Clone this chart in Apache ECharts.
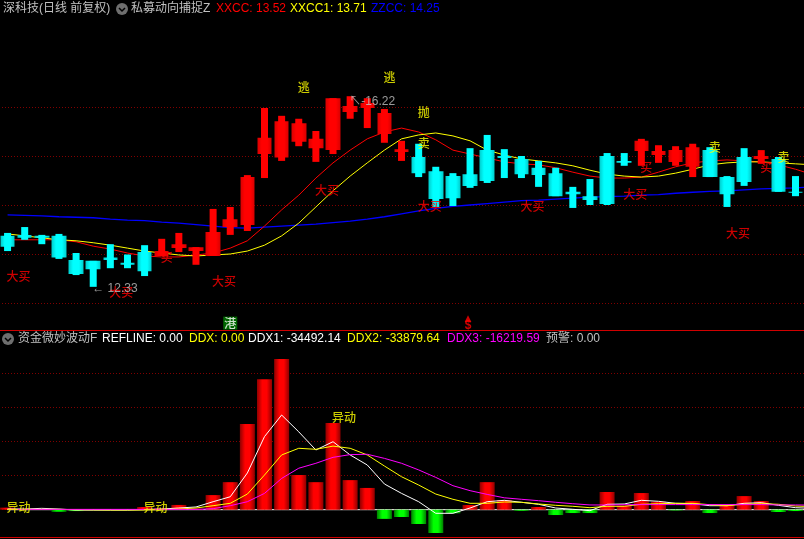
<!DOCTYPE html>
<html>
<head>
<meta charset="utf-8">
<style>html,body{margin:0;padding:0;background:#000}#c{width:804px;height:539px}</style>
<script src="https://cdn.jsdelivr.net/npm/echarts@6/dist/echarts.min.js"></script>
</head>
<body>
<div id="c"></div>
<script>
// Candles: [open, close, low, high]
const candles = [
[13.37,13.15,13.06,13.43],[13.39,13.33,13.29,13.55],[13.37,13.33,13.20,13.39],[13.37,12.93,12.90,13.41],
[12.88,12.59,12.57,13.02],[12.86,12.69,12.33,12.86],[12.93,12.88,12.71,13.20],[12.82,12.78,12.71,12.99],
[13.04,12.65,12.55,13.18],[12.96,13.06,12.96,13.31],[13.12,13.20,13.04,13.43],[13.06,13.14,12.78,13.14],
[12.96,13.45,12.96,13.92],[13.55,13.71,13.39,13.96],[13.59,14.57,13.47,14.61],[15.04,15.37,14.55,15.98],
[14.97,15.71,14.90,15.82],[15.29,15.67,15.20,15.76],[15.16,15.35,14.88,15.51],[15.12,16.18,15.04,16.18],
[15.90,16.02,15.76,16.22],[15.98,16.08,15.57,16.18],[15.45,15.88,15.27,15.96],[15.08,15.14,14.90,15.31],
[14.98,14.65,14.57,15.25],[14.69,14.12,13.96,14.78],[14.59,14.14,13.98,14.65],[14.63,14.39,14.35,15.16],
[15.12,14.49,14.45,15.43],[15.00,14.96,14.55,15.14],[14.94,14.63,14.55,15.00],[14.76,14.61,14.37,14.90],
[14.65,14.18,14.18,14.76],[14.27,14.22,13.94,14.37],[14.18,14.10,14.00,14.53],[15.00,14.02,14.00,15.06],
[14.90,14.86,14.80,15.06],[15.10,15.31,14.80,15.35],[15.02,15.10,14.86,15.22],[14.88,15.12,14.80,15.20],
[14.78,15.18,14.57,15.25],[15.12,14.57,14.57,15.18],[14.57,14.22,13.96,14.59],[14.98,14.47,14.39,15.16],
[14.94,15.00,14.84,15.12],[14.94,14.27,14.27,14.98],[14.27,14.25,14.18,14.59]
];
// One trailing slot: the indicator lines run on past the last candle to the window edge.
const categories = ['D1','D2','D3','D4','D5','D6','D7','D8','D9','D10','D11','D12','D13','D14','D15','D16','D17','D18','D19','D20','D21','D22','D23','D24','D25','D26','D27','D28','D29','D30','D31','D32','D33','D34','D35','D36','D37','D38','D39','D40','D41','D42','D43','D44','D45','D46','D47','D48'];
const xxcc = [13.29,13.29,13.29,13.29,13.25,13.16,13.10,13.02,12.96,12.94,12.94,12.98,13.02,13.12,13.27,13.57,13.90,14.20,14.55,14.86,15.12,15.35,15.49,15.57,15.49,15.33,15.12,15.04,14.96,14.88,14.84,14.82,14.76,14.67,14.59,14.55,14.55,14.57,14.67,14.78,14.86,14.90,14.92,14.90,14.88,14.82,14.73,14.62];
const xxcc1 = [13.41,13.37,13.33,13.29,13.27,13.23,13.18,13.12,13.06,13.02,12.98,12.96,12.98,13.00,13.06,13.18,13.37,13.63,13.96,14.29,14.59,14.86,15.12,15.35,15.43,15.47,15.41,15.31,15.12,15.02,14.94,14.90,14.86,14.80,14.71,14.63,14.59,14.57,14.59,14.65,14.73,14.82,14.86,14.88,14.88,14.86,14.84,14.82];
const zzcc = [13.80,13.79,13.78,13.76,13.75,13.74,13.71,13.69,13.68,13.65,13.63,13.60,13.57,13.54,13.53,13.55,13.57,13.59,13.61,13.64,13.67,13.71,13.76,13.82,13.88,13.93,13.97,14.00,14.03,14.06,14.09,14.10,14.12,14.14,14.16,14.17,14.18,14.20,14.21,14.24,14.26,14.28,14.29,14.31,14.33,14.34,14.35,14.37];
// Lower pane
const ddxBars = [6000,0,0,-6000,-4000,0,0,0,8000,4000,14000,3000,43000,81000,252000,384000,443000,102000,81000,255000,87000,64000,-27000,-21500,-42000,-68500,-10500,13700,81000,28500,-3000,8000,-15700,-9800,-9800,52000,12000,49000,23500,-2000,25500,-9800,13700,40000,25500,-6700,-4000];
const refline = [0,0,0,0,0,0,0,0,0,0,0,0,0,0,0,0,0,0,0,0,0,0,0,0,0,0,0,0,0,0,0,0,0,0,0,0,0,0,0,0,0,0,0,0,0,0,0,0];
const ddx1 = [2000,2000,4000,2000,-1000,-1000,-1000,-1000,500,2000,5000,8000,23500,38000,108000,215000,278500,229000,175600,200000,161000,131500,75600,48000,23500,-10600,-10600,5000,23500,27600,21800,15900,5000,1200,-2900,15900,16800,27600,24700,18800,17600,11800,11800,18800,20600,12900,5900,4000];
const ddx2 = [1000,1000,1000,1000,0,-500,-1000,-1000,-1000,0,2000,5000,11800,18800,46000,102000,161000,180600,177600,187000,180600,161000,128500,97000,72600,46000,30600,18800,18800,22600,21800,16800,12900,10000,5900,10000,10000,15900,17600,18800,18800,14700,11800,15900,17600,15900,10900,9000];
const ddx3 = [1000,1000,1000,1000,1000,1000,1000,1000,1000,1000,1000,1000,3000,11800,23500,48000,92000,122000,136500,154000,162000,163000,151000,136500,117000,95000,70600,56000,45000,35000,30600,26500,21800,17600,14000,13800,14700,15000,15000,15000,15000,15000,15000,15000,15000,14000,14000,13500];
// Text marks: [candle index, price or value]
const bigBuy = [[0,12.55],[6,12.21],[12,12.43],[18,14.29],[24,13.98],[30,13.98],[36,14.22],[42,13.41]];
const buy = [[9,12.94],[37,14.76],[44,14.76]];
const sell = [[24,15.25],[41,15.18],[45,14.98]];
const escape = [[17,16.39],[22,16.61]];
const dump = [[24,15.88]];
const signalGang = [[13,11.59]];
const signalDollar = [[27,11.61]];
const lowMark = [[5,12.33]];
const highMark = [[20,16.22]];
const unusual = [[0,6000],[8,8000],[19,270000]];
const priceTicks = {min:11,max:17,step:1};
const flowTicks = {min:-100000,max:500000,step:100000};
// Header text
const header1 = [['深科技(日线 前复权)',3,'#c0c0c0'],['私募动向捕捉Z',131,'#c0c0c0'],['XXCC: 13.52',216,'#ff0000'],['XXCC1: 13.71',290,'#ffff00'],['ZZCC: 14.25',371,'#0000ff']];
const header2 = [['资金微妙波动F',18,'#c0c0c0'],['REFLINE: 0.00',102,'#ffffff'],['DDX: 0.00',189,'#ffff00'],['DDX1: -34492.14',248,'#ffffff'],['DDX2: -33879.64',347,'#ffff00'],['DDX3: -16219.59',447,'#ff00ff'],['预警: 0.00',546,'#c0c0c0']];

const FONT = '"Liberation Sans","Noto Sans CJK SC",sans-serif';
const CJK = '"Noto Sans CJK SC",sans-serif';
const grad = (edge, mid) => new echarts.graphic.LinearGradient(0,0,1,0,[{offset:0,color:edge},{offset:.3,color:mid},{offset:.7,color:mid},{offset:1,color:edge}]);
const gradBar = (edge, mid) => new echarts.graphic.LinearGradient(0,0,1,0,[{offset:0,color:edge},{offset:.35,color:mid},{offset:.65,color:mid},{offset:1,color:edge}]);
const RED = grad('#d80000','#ff0000'), CYAN = grad('#00cccc','#00ffff');

function marks(name, arr, text, color, xi, yi, extra) {
  return {
    name, type:'scatter', xAxisIndex:xi, yAxisIndex:yi, symbolSize:0, z:6, silent:true,
    data:arr,
    label:Object.assign({show:true, formatter:text, color, fontFamily:CJK, fontSize:12, fontWeight:500,
      position:'right', distance:0, align:'left', verticalAlign:'middle', offset:[-1,0]}, extra||{})
  };
}
function line(name, data, color, xi, yi, z, w) {
  return {name, type:'line', xAxisIndex:xi, yAxisIndex:yi, data, showSymbol:false, symbol:'none', z,
    lineStyle:{color, width:w||1}, itemStyle:{color}, animation:false, silent:true};
}
const gridStyle = {show:true, showMinLine:false, showMaxLine:false, lineStyle:{color:'#800000', width:1, type:[1,2]}};
const headerText = (rows, y) => rows.map(r => ({
  type:'text', x:r[1], y, style:{text:r[0], fill:r[2], font:'12px '+FONT, textVerticalAlign:'middle'}, silent:true
}));
const icon = (cx, cy) => ([
  {type:'circle', shape:{cx, cy, r:6}, style:{fill:'#6e6e6e'}, silent:true},
  {type:'polyline', shape:{points:[[cx-3,cy-1],[cx,cy+2],[cx+3,cy-1]]}, style:{stroke:'#000', fill:'none', lineWidth:1.5}, silent:true}
]);
const rule = (y) => ({type:'line', shape:{x1:0,y1:y,x2:804,y2:y}, style:{stroke:'#d00000', lineWidth:1}, silent:true});

const chart = echarts.init(document.getElementById('c'), null, {renderer:'canvas'});
chart.setOption({
  backgroundColor:'#000',
  animation:false,
  grid:[
    {left:-1, width:822.2, top:58, height:294, outerBoundsMode:'none'},
    {left:-1, width:822.2, top:339.7, height:204, outerBoundsMode:'none'}
  ],
  xAxis:[
    {type:'category', gridIndex:0, data:categories, boundaryGap:true, show:false},
    {type:'category', gridIndex:1, data:categories, boundaryGap:true, show:false}
  ],
  yAxis:[
    {type:'value', gridIndex:0, min:priceTicks.min, max:priceTicks.max, interval:priceTicks.step, axisLine:{show:false}, axisTick:{show:false}, axisLabel:{show:false}, splitLine:gridStyle},
    {type:'value', gridIndex:1, min:flowTicks.min, max:flowTicks.max, interval:flowTicks.step, axisLine:{show:false}, axisTick:{show:false}, axisLabel:{show:false}, splitLine:gridStyle}
  ],
  graphic:{elements:[
    ...headerText(header1, 9), ...icon(122,9),
    ...headerText(header2, 339), ...icon(8,339),
    rule(330.5), rule(537.5)
  ]},
  series:[
    line('ZZCC', zzcc, '#0000ff', 0,0, 1, 1.3),
    line('XXCC', xxcc, '#ff0000', 0,0, 1),
    line('XXCC1', xxcc1, '#ffff00', 0,0, 1),
    {
      name:'wick', type:'custom', xAxisIndex:0, yAxisIndex:0, z:2, silent:true,
      data:candles.map((c,i)=>[i,c[2],c[3],c[1]>=c[0]?1:0]),
      encode:{x:0,y:[1,2]},
      renderItem:(p,api)=>{
        const lo=api.coord([api.value(0),api.value(1)]), hi=api.coord([api.value(0),api.value(2)]);
        return {type:'rect', shape:{x:lo[0]-3.5,y:hi[1],width:7,height:lo[1]-hi[1]},
          style:{fill:api.value(3)?'#ff0000':'#00ffff'}};
      }
    },
    {
      name:'K', type:'candlestick', xAxisIndex:0, yAxisIndex:0, z:3, barWidth:15, silent:true,
      data:candles,
      itemStyle:{color:RED, color0:CYAN, borderColor:'#e00000', borderColor0:'#00d0d0', borderWidth:0}
    },
    marks('大买', bigBuy, '大买', '#ff0000', 0,0),
    marks('买', buy, '买', '#ff0000', 0,0),
    marks('卖', sell, '卖', '#ffff00', 0,0),
    marks('逃', escape, '逃', '#ffff00', 0,0),
    marks('抛', dump, '抛', '#ffff00', 0,0),
    marks('港', signalGang, '港', '#ffffff', 0,0, {position:'inside', align:'center', backgroundColor:'#008000', padding:[1,1,0,1], offset:[0,0]}),
    marks('S', signalDollar, '▴\n$', '#ff0000', 0,0, {position:'inside', align:'center', fontFamily:FONT, fontWeight:'bold', fontSize:12, lineHeight:7, offset:[-2,0]}),
    marks('low', lowMark, '← 12.33', '#c0c0c0', 0,0, {fontFamily:FONT, fontWeight:'normal', offset:[-1,2]}),
    marks('high', highMark, '↖-16.22', '#c0c0c0', 0,0, {fontFamily:FONT, fontWeight:'normal', offset:[-1,5]}),

    line('REFLINE', refline, '#ffffff', 1,1, 1, 1),
    {
      name:'DDX', type:'bar', xAxisIndex:1, yAxisIndex:1, barWidth:15, z:2, silent:true,
      data:ddxBars.map(v=>({value:v, itemStyle:{color:v>=0?gradBar('#900000','#ff0000'):gradBar('#008000','#00ff00')}}))
    },
    line('DDX1', ddx1, '#ffffff', 1,1, 3),
    line('DDX2', ddx2, '#ffff00', 1,1, 4),
    line('DDX3', ddx3, '#ff00ff', 1,1, 5),
    marks('异动', unusual, '异动', '#ffff00', 1,1)
  ]
});
</script>
</body>
</html>
